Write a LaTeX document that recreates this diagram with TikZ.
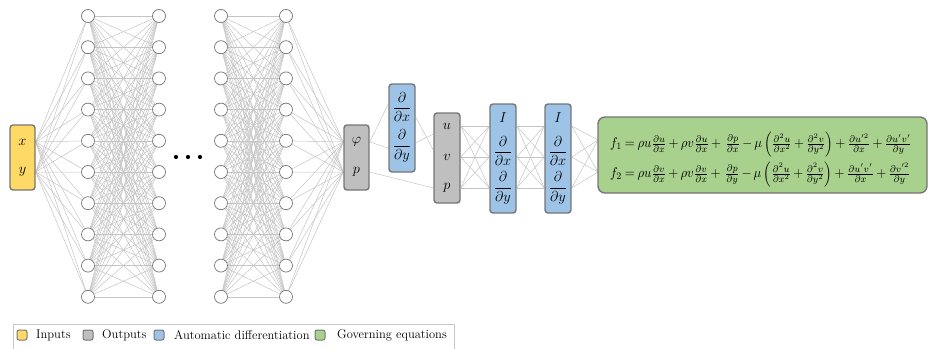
\documentclass[tikz,border=0pt]{standalone}
\usepackage{amsmath}
\usepackage{graphicx}
\usetikzlibrary{backgrounds}

\definecolor{inyellow}{HTML}{FFD966}
\definecolor{outgrey}{HTML}{BFBFBF}
\definecolor{adblue}{HTML}{9DC3E6}
\definecolor{eqgreen}{HTML}{A9D18E}
\definecolor{edgegrey}{HTML}{767676}
\definecolor{wiregrey}{HTML}{C4C4C4}
\definecolor{framegrey}{HTML}{C8C8C8}

\begin{document}
\begin{tikzpicture}[x=1pt,y=-1pt,
  neuron/.style={circle,draw=edgegrey,fill=white,line width=0.7pt,minimum size=13pt,inner sep=0pt},
  blockbox/.style={draw=edgegrey,line width=1.4pt,rounded corners=3pt,inner sep=0pt},
  keybox/.style={draw=edgegrey,line width=1pt,rounded corners=2pt,inner sep=0pt,minimum size=10pt},
  wire/.style={draw=wiregrey,line width=0.5pt},
  lbl/.style={inner sep=0pt,font=\fontsize{15.5}{17}\selectfont},
  dlbl/.style={inner sep=0pt,font=\fontsize{13.5}{15}\selectfont},
  keytext/.style={inner sep=0pt,anchor=west,font=\fontsize{12.5}{14}\selectfont}
]
\useasboundingbox (0,0) rectangle (934,348);

% ---- input block ----
\node[blockbox,fill=inyellow,minimum width=25pt,minimum height=65pt] (inp) at (22.5,157.5) {};
\node[lbl] (inx) at (22.5,142) {$x$};
\node[lbl] (iny) at (22.5,172) {$y$};

% ---- hidden layers ----
\foreach \L/\X in {a/88,b/159,c/221,d/286}{
  \foreach \i in {1,...,10}{
    \node[neuron] (\L\i) at (\X,{16+(\i-1)*31.2}) {};
  }
}
\foreach \k/\X in {1/176,2/188,3/200}
  \fill (\X,157) circle (2.1pt) coordinate (dot\k);

% ---- network output block ----
\node[blockbox,fill=outgrey,minimum width=25pt,minimum height=65pt] (out) at (356.5,157.5) {};
\node[lbl] (ophi) at (356.5,142) {$\varphi$};
\node[lbl] (op) at (356.5,172) {$p$};

% ---- first differentiation block ----
\node[blockbox,fill=adblue,minimum width=26pt,minimum height=88pt] (dA) at (402,128) {};
\node[dlbl] (dAx) at (402,107) {$\dfrac{\partial}{\partial x}$};
\node[dlbl] (dAy) at (402,146) {$\dfrac{\partial}{\partial y}$};

% ---- velocity / pressure block ----
\node[blockbox,fill=outgrey,minimum width=26pt,minimum height=90pt] (uvp) at (447,158) {};
\node[lbl] (vu) at (447,126) {$u$};
\node[lbl] (vv) at (447,157) {$v$};
\node[lbl] (vp) at (447,188) {$p$};

% ---- second and third differentiation blocks ----
\foreach \B/\X in {dB/503,dC/558}{
  \node[blockbox,fill=adblue,minimum width=26pt,minimum height=109pt] (\B) at (\X,158.5) {};
  \node[lbl] (\B i) at (\X,118) {$I$};
  \node[dlbl] (\B x) at (\X,151) {$\dfrac{\partial}{\partial x}$};
  \node[dlbl] (\B y) at (\X,188) {$\dfrac{\partial}{\partial y}$};
}

% ---- governing equations ----
\node[blockbox,fill=eqgreen,minimum width=329pt,minimum height=76pt,rounded corners=7pt] (gov) at (762.5,155) {};
\node[inner sep=0pt] (eqs) at (761,157) {\scalebox{1}[1.1]{\resizebox{302pt}{!}{$\medmuskip=3mu\thickmuskip=4mu\renewcommand{\arraystretch}{1.75}%
 \begin{array}{@{}l@{}}
 f_1 = \rho u\frac{\partial u}{\partial x} + \rho v\frac{\partial u}{\partial x} +\, \frac{\partial p}{\partial x} - \mu\left(\frac{\partial^2 u}{\partial x^2} + \frac{\partial^2 v}{\partial y^2}\right) + \frac{\partial u'^2}{\partial x} + \frac{\partial u'v'}{\partial y}\\
 f_2 = \rho u\frac{\partial v}{\partial x} + \rho v\frac{\partial v}{\partial x} +\, \frac{\partial p}{\partial y} - \mu\left(\frac{\partial^2 u}{\partial x^2} + \frac{\partial^2 v}{\partial y^2}\right) + \frac{\partial u'v'}{\partial x} + \frac{\partial v'^2}{\partial y}
 \end{array}$}}};
\coordinate (gf1) at (598,140);
\coordinate (gf2) at (598,172);

% ---- connections (behind everything) ----
\begin{pgfonlayer}{background}
  \foreach \j in {1,...,10}{
    \draw[wire] (inp.east |- inx) -- (a\j);
    \draw[wire] (inp.east |- iny) -- (a\j);
    \draw[wire] (d\j) -- (out.west |- ophi);
    \draw[wire] (d\j) -- (out.west |- op);
    \foreach \i in {1,...,10}{
      \draw[wire] (a\i) -- (b\j);
      \draw[wire] (c\i) -- (d\j);
    }
  }
  \draw[wire] (out.east |- ophi) -- ([yshift=3pt]dA.west |- dAx);
  \draw[wire] (out.east |- ophi) -- ([yshift=-2pt]dA.west |- dAy);
  \draw[wire] ([yshift=-10pt]dA.east |- dAx) -- ([yshift=7pt]uvp.west |- vv);
  \draw[wire] ([yshift=3pt]dA.east |- dAy) -- ([yshift=-8pt]uvp.west |- vu);
  \draw[wire] (out.east |- op) -- (uvp.west |- vp);
  \foreach \s in {vu,vv,vp}{
    \foreach \t in {vu,vv,vp}{
      \draw[wire] (uvp.east |- \s) -- (dB.west |- \t);
      \draw[wire] (dB.east |- \s) -- (dC.west |- \t);
    }
    \draw[wire] (dC.east |- \s) -- (gf1);
    \draw[wire] (dC.east |- \s) -- (gf2);
  }
\end{pgfonlayer}

% ---- legend ----
\draw[draw=framegrey,line width=0.8pt] (13,349) |- (454,324) -- (454,349);
\node[keybox,fill=inyellow] (k1) at (22,335) {};
\node[keytext] (t1) at (36,335) {Inputs};
\node[keybox,fill=outgrey] (k2) at (88,335) {};
\node[keytext] (t2) at (102,335) {Outputs};
\node[keybox,fill=adblue] (k3) at (159,335) {};
\node[keytext] (t3) at (174,335) {Automatic differentiation};
\node[keybox,fill=eqgreen] (k4) at (320,335) {};
\node[keytext] (t4) at (337,335) {Governing equations};
\end{tikzpicture}
\end{document}
